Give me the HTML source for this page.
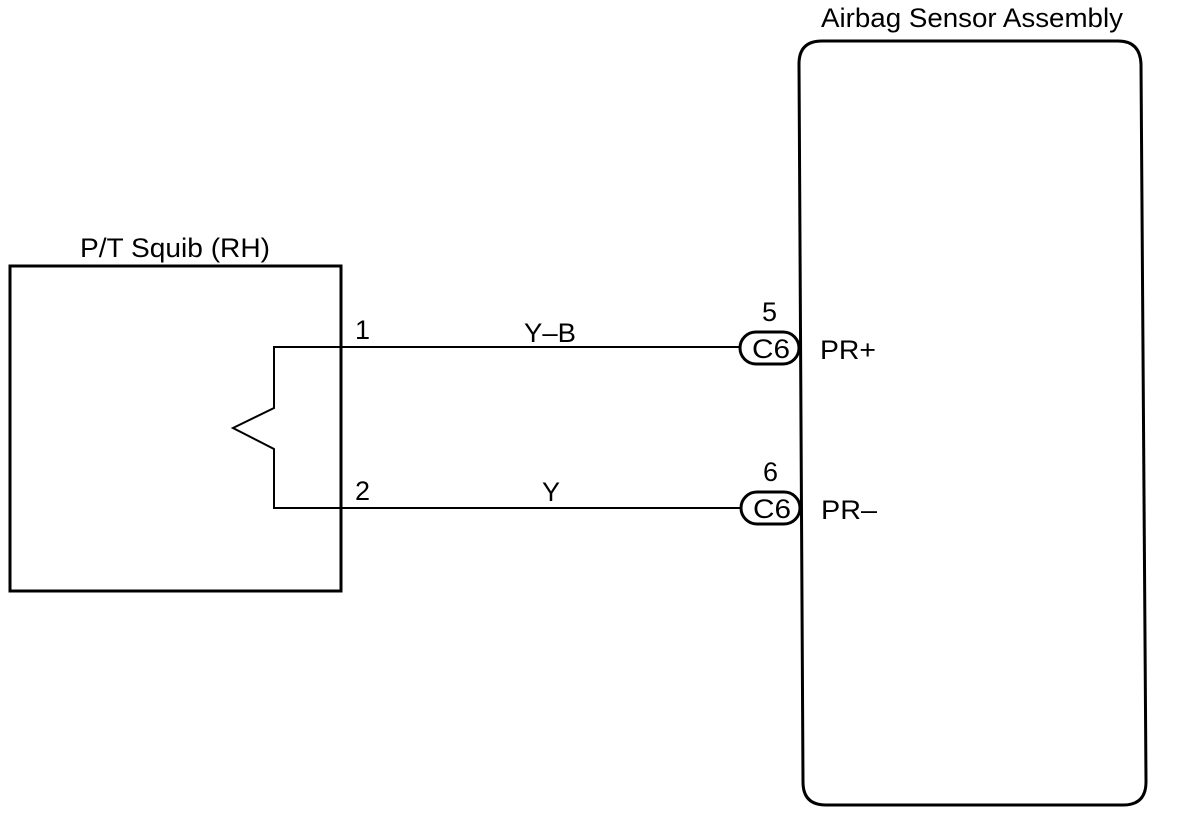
<!DOCTYPE html>
<html><head><meta charset="utf-8"><style>
html,body{margin:0;padding:0;background:#fff;}
svg{display:block;}
text{font-family:"Liberation Sans",Arial,sans-serif;font-size:27px;fill:#000;}
</style></head><body>
<svg width="1184" height="816" viewBox="0 0 1184 816" xmlns="http://www.w3.org/2000/svg">
<g fill="none" stroke="#000" stroke-width="3">
<rect x="10" y="266" width="331" height="325"/>
<path d="M799 64 Q799 41 822 41 L1118 41 Q1140 41 1141 64 L1146 782 Q1146 805 1123 805 L826 805 Q803 805 803 782 Z"/>
<rect x="740" y="332" width="59" height="32" rx="16"/>
<rect x="741" y="492" width="59" height="32" rx="16"/>
</g>
<g fill="none" stroke="#000" stroke-width="2">
<path d="M740 347 L274 347 L274 408 L233 428 L274 449 L274 508 L741 508"/>
</g>
<text x="80" y="257" textLength="190" lengthAdjust="spacingAndGlyphs">P/T Squib (RH)</text>
<text x="821" y="27" textLength="302" lengthAdjust="spacingAndGlyphs">Airbag Sensor Assembly</text>
<text x="355" y="339">1</text>
<text x="524" y="342" textLength="52" lengthAdjust="spacingAndGlyphs">Y–B</text>
<text x="355" y="500">2</text>
<text x="542" y="501">Y</text>
<text x="762" y="321">5</text>
<text x="763" y="481">6</text>
<text x="752" y="358" textLength="38" lengthAdjust="spacingAndGlyphs">C6</text>
<text x="753" y="518" textLength="38" lengthAdjust="spacingAndGlyphs">C6</text>
<text x="820" y="359" textLength="56" lengthAdjust="spacingAndGlyphs">PR+</text>
<text x="821" y="519" textLength="56" lengthAdjust="spacingAndGlyphs">PR–</text>
</svg>
</body></html>
